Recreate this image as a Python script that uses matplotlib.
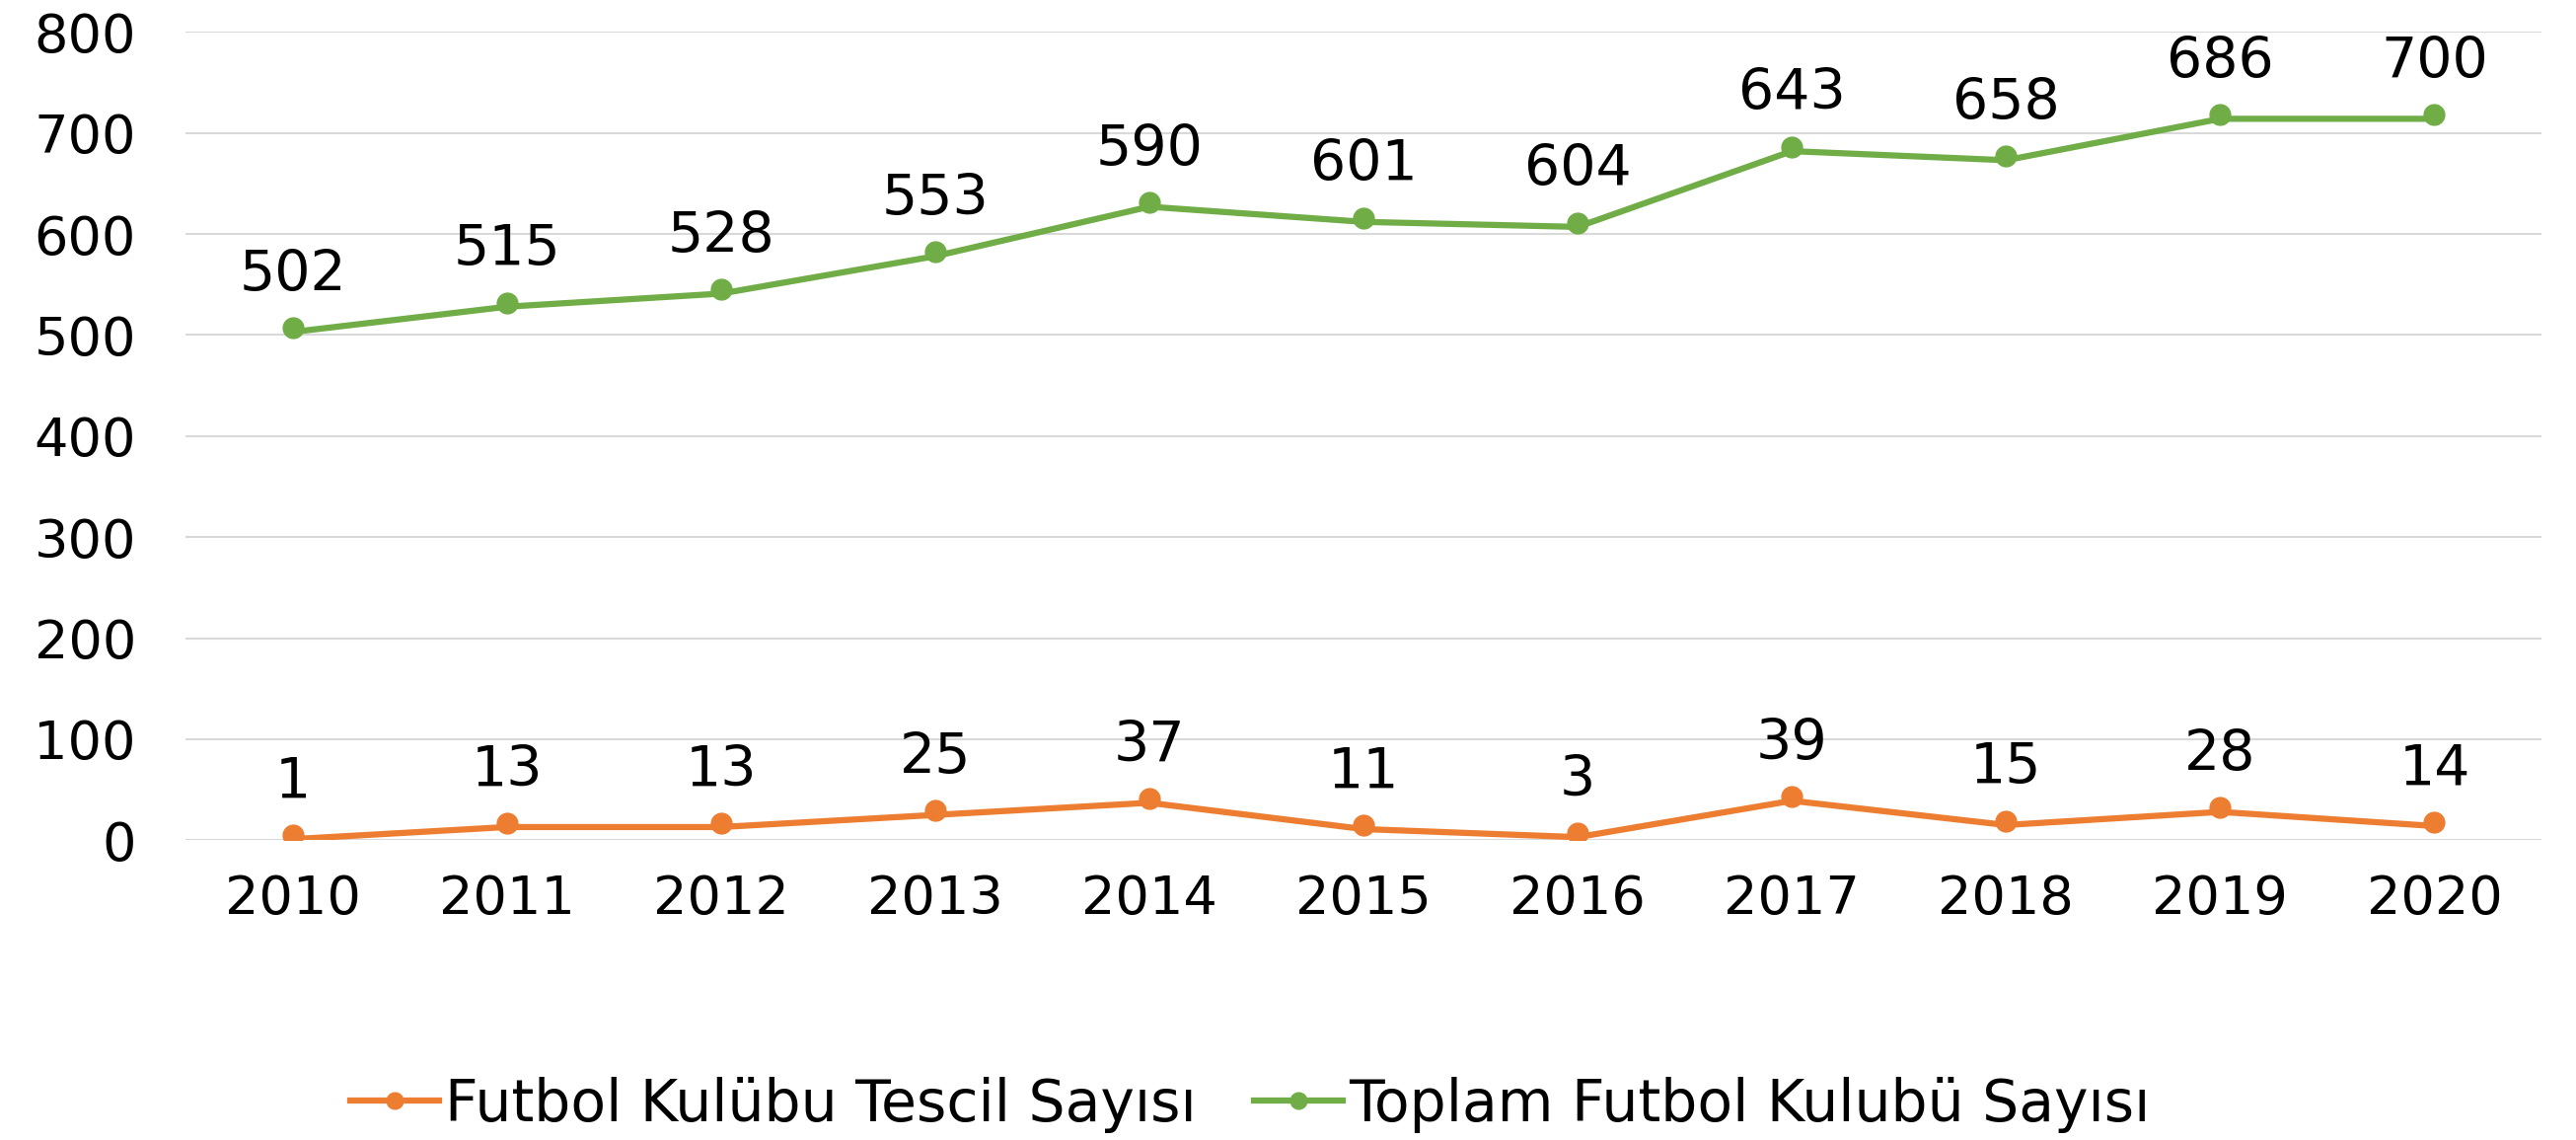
import matplotlib
matplotlib.use("Agg")
import matplotlib.pyplot as plt
from matplotlib.lines import Line2D
from matplotlib.transforms import offset_copy
import numpy as np

plt.rcParams['font.family'] = ['DejaVu Sans']

# veriler
years = ["2010", "2011", "2012", "2013", "2014", "2015", "2016", "2017", "2018", "2019", "2020"]
tescil = [1, 13, 13, 25, 37, 11, 3, 39, 15, 28, 14]
toplam = [502, 515, 528, 553, 590, 601, 604, 643, 658, 686, 700]
series_names = ["Futbol Kulübu Tescil Sayısı", "Toplam Futbol Kulubü Sayısı"]
colors = ["#ED7D31", "#70AD47"]

x = np.arange(len(years))
# yığılmış çizgi grafiği: ikinci seri birincinin üstüne eklenir
stacked = [np.array(tescil), np.array(tescil) + np.array(toplam)]
labels = [tescil, toplam]

FS = 39

fig = plt.figure(figsize=(26.11, 11.55), dpi=100)
ax = fig.add_axes([0.072, 0.263, 0.9146, 0.709])

for i in range(2):
    ax.plot(x, stacked[i], color=colors[i], lw=4.5, solid_capstyle='round', zorder=3)
    # işaretçiler çizginin biraz üstünde
    mk_tr = offset_copy(ax.transData, fig=fig, x=0, y=3, units='points')
    ax.plot(x, stacked[i], ls='none', marker='o', ms=15, color=colors[i],
            transform=mk_tr, zorder=4)
    for xi, yi, lab in zip(x, stacked[i], labels[i]):
        ax.annotate(str(lab), (xi, yi), xytext=(0, 30), textcoords='offset points',
                    ha='center', va='baseline', fontsize=41, color='black')

ax.set_xlim(-0.5, len(years) - 0.5)
ax.set_ylim(0, 800)
ax.set_yticks(range(0, 801, 100))
ax.set_xticks(x)
ax.set_xticklabels(years)
ax.tick_params(axis='both', length=0, labelsize=FS, colors='black')
ax.tick_params(axis='y', pad=36)
ax.tick_params(axis='x', pad=24)
ax.grid(axis='y', color='#D9D9D9', lw=1.5)
ax.set_axisbelow(True)
for s in ax.spines.values():
    s.set_visible(False)

handles = [Line2D([0], [0], color=c, lw=4.5, marker='o', ms=12) for c in colors]
fig.legend(handles, series_names, loc='center', bbox_to_anchor=(0.4853, 0.031),
           ncol=2, frameon=False, fontsize=42, handlelength=1.55, handletextpad=0.1,
           columnspacing=1.0)

fig.savefig("out.png", dpi=100)
